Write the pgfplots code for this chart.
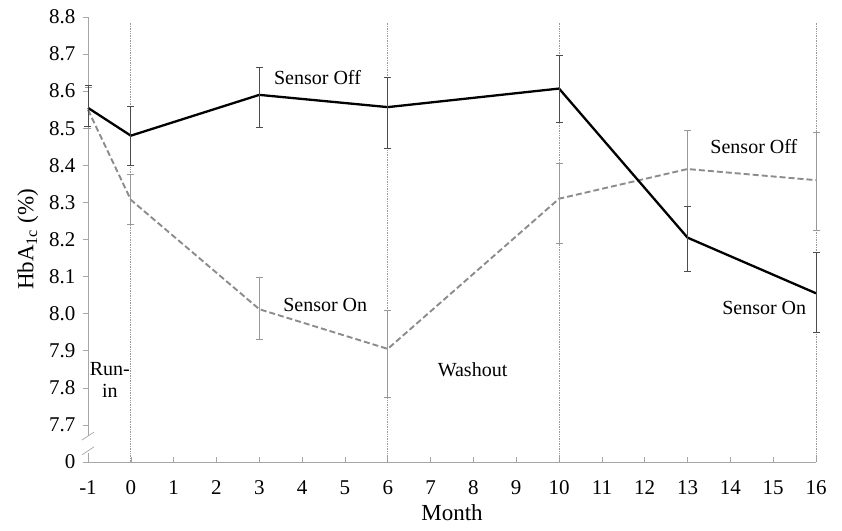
\documentclass[border=0pt]{standalone}
\usepackage{pgfplots}
\pgfplotsset{compat=1.18}
\usepackage{fontspec}
\setmainfont{Liberation Serif}
\begin{document}
\begin{tikzpicture}
\begin{axis}[
  name=ax,
  scale only axis,
  width=728pt, height=445pt,
  xmin=-1, xmax=16, ymin=7.6, ymax=8.8,
  axis lines=left,
  axis line style={-, gray!70, line width=0.6pt},
  clip=false,
  xtick={-1,0,...,16},
  ytick={7.6,7.7,7.8,7.9,8.0,8.1,8.2,8.3,8.4,8.5,8.6,8.7,8.8},
  yticklabels={0,7.7,7.8,7.9,8.0,8.1,8.2,8.3,8.4,8.5,8.6,8.7,8.8},
  xtick align=inside, ytick align=outside,
  major tick length=5pt,
  tick style={gray!70, line width=0.6pt},
  /pgf/number format/assume math mode=true,
  tick label style={font=\fontsize{21}{25}\selectfont},
  xticklabel style={yshift=-15pt},
  yticklabel style={xshift=-4pt},
  xlabel={Month},
  ylabel={HbA\textsubscript{1c} (\%)},
  label style={font=\fontsize{23}{27}\selectfont},
  xlabel style={yshift=-3pt},
  ylabel style={yshift=4pt},
]
% vertical dotted period separators
\addplot[gray!80, densely dotted, line width=0.7pt, forget plot] coordinates {(0,7.6) (0,8.785)};
\addplot[gray!80, densely dotted, line width=0.7pt, forget plot] coordinates {(6,7.6) (6,8.785)};
\addplot[gray!80, densely dotted, line width=0.7pt, forget plot] coordinates {(10,7.6) (10,8.785)};
\addplot[gray!80, densely dotted, line width=0.7pt, forget plot] coordinates {(16,7.6) (16,8.785)};
% dashed series
\addplot[gray!90, line width=1.9pt, dash pattern=on 6pt off 3pt,
  error bars/.cd, y dir=both, y explicit,
  error bar style={gray!80, line width=0.7pt, solid},
  error mark options={gray!80, line width=0.7pt, mark size=3.5pt, rotate=90, solid}]
coordinates {
  (-1,8.55) += (0,0.06) -= (0,0.05)
  (0,8.307) += (0,0.07) -= (0,0.065)
  (3,8.012) += (0,0.087) -= (0,0.082)
  (6,7.905) += (0,0.105) -= (0,0.13)
  (10,8.31) += (0,0.095) -= (0,0.12)
  (13,8.39) += (0,0.105) -= (0,0.10)
  (16,8.36) += (0,0.13) -= (0,0.135)
};
% solid series
\addplot[black, line width=2.3pt,
  error bars/.cd, y dir=both, y explicit,
  error bar style={gray!60!black, line width=0.7pt},
  error mark options={gray!60!black, line width=0.7pt, mark size=3.5pt, rotate=90}]
coordinates {
  (-1,8.555) += (0,0.06) -= (0,0.05)
  (0,8.48) += (0,0.08) -= (0,0.08)
  (3,8.59) += (0,0.075) -= (0,0.087)
  (6,8.557) += (0,0.08) -= (0,0.11)
  (10,8.607) += (0,0.09) -= (0,0.09)
  (13,8.205) += (0,0.085) -= (0,0.09)
  (16,8.055) += (0,0.11) -= (0,0.105)
};
% annotations
\node[font=\fontsize{20}{24}\selectfont] at (axis cs:4.36,8.638) {Sensor Off};
\node[font=\fontsize{20}{24}\selectfont] at (axis cs:4.54,8.024) {Sensor On};
\node[font=\fontsize{20}{24}\selectfont] at (axis cs:7.98,7.849) {Washout};
\node[font=\fontsize{20}{24}\selectfont] at (axis cs:14.55,8.45) {Sensor Off};
\node[font=\fontsize{20}{24}\selectfont] at (axis cs:14.79,8.016) {Sensor On};
\node[font=\fontsize{20}{22}\selectfont, align=center] at (axis cs:-0.49,7.82) {Run-\\in};
% axis break marks
\fill[white] (axis cs:-1,7.625) rectangle ([xshift=1pt]axis cs:-1,7.67);
\draw[gray!70, line width=0.7pt] (axis cs:-1,7.67) ++(-6pt,-4pt) -- ++(12pt,8pt);
\draw[gray!70, line width=0.7pt] (axis cs:-1,7.63) ++(-6pt,-4pt) -- ++(12pt,8pt);
\end{axis}
\pgfresetboundingbox
\path[use as bounding box] ([xshift=-88pt,yshift=-68pt]ax.south west) rectangle ([xshift=26pt,yshift=17pt]ax.north east);
\end{tikzpicture}
\end{document}
